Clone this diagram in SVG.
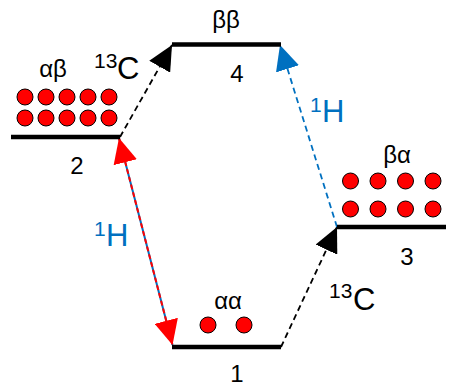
<svg xmlns="http://www.w3.org/2000/svg" width="449" height="388" viewBox="0 0 449 388">
<defs>
<style>
.lvl{stroke:#000;stroke-width:4.5;fill:none}
.dot{fill:#FF0000;stroke:#000;stroke-width:1}
.t{font-family:"Liberation Sans",Arial,sans-serif;fill:#000}
.num{font-size:24px;text-anchor:middle}
.gr{font-size:24px;text-anchor:middle}
.big{font-size:31px}
.sup{font-size:21px}
.blue{fill:#0070C0}
.cdash{stroke:#000;stroke-width:1.8;stroke-dasharray:6 4;fill:none}
.hdash{stroke:#0070C0;stroke-width:1.8;stroke-dasharray:6 4;fill:none}
</style>
<marker id="ahK" markerUnits="userSpaceOnUse" markerWidth="25" markerHeight="24" refX="25" refY="12" orient="auto" viewBox="0 0 25 24"><path d="M0,0 L25,12 L0,24 z" fill="#000"/></marker>
<marker id="ahB" markerUnits="userSpaceOnUse" markerWidth="25" markerHeight="24" refX="25" refY="12" orient="auto" viewBox="0 0 25 24"><path d="M0,0 L25,12 L0,24 z" fill="#0070C0"/></marker>
<marker id="ahR" markerUnits="userSpaceOnUse" markerWidth="25" markerHeight="24" refX="25" refY="12" orient="auto-start-reverse" viewBox="0 0 25 24"><path d="M0,0 L25,12 L0,24 z" fill="#FF0000"/></marker>
</defs>
<rect width="449" height="388" fill="#fff"/>
<g id="connectors">
<line class="cdash" x1="120" y1="137" x2="172" y2="45" marker-end="url(#ahK)"/>
<line class="cdash" x1="281" y1="347" x2="337" y2="227" marker-end="url(#ahK)"/>
<line class="hdash" x1="337" y1="227" x2="280" y2="45" marker-end="url(#ahB)"/>
<line x1="119" y1="138" x2="172.5" y2="345" stroke="#0070C0" stroke-width="2"/>
<line x1="119" y1="138" x2="172.5" y2="345" stroke="#FF0000" stroke-width="2" stroke-dasharray="5 3" marker-start="url(#ahR)" marker-end="url(#ahR)"/>
<text class="t big blue"><tspan class="sup" x="94" y="236">1</tspan><tspan x="106" y="246">H</tspan></text>
<text class="t big blue"><tspan class="sup" x="310" y="112">1</tspan><tspan x="322" y="122">H</tspan></text>
<text class="t big"><tspan class="sup" x="94" y="68">13</tspan><tspan x="117" y="79">C</tspan></text>
<text class="t big"><tspan class="sup" x="329" y="298">13</tspan><tspan x="353" y="310">C</tspan></text>
</g>
<g id="level2">
<line class="lvl" x1="11" y1="137" x2="120" y2="137"/>
<circle class="dot" cx="25" cy="97" r="8"/><circle class="dot" cx="46" cy="97" r="8"/><circle class="dot" cx="67" cy="97" r="8"/><circle class="dot" cx="88" cy="97" r="8"/><circle class="dot" cx="109" cy="97" r="8"/>
<circle class="dot" cx="25" cy="118" r="8"/><circle class="dot" cx="46" cy="118" r="8"/><circle class="dot" cx="67" cy="118" r="8"/><circle class="dot" cx="88" cy="118" r="8"/><circle class="dot" cx="109" cy="118" r="8"/>
<text class="t gr" x="53" y="77">αβ</text>
<text class="t num" x="77" y="174">2</text>
</g>
<g id="level4">
<line class="lvl" x1="172" y1="44.5" x2="281" y2="44.5"/>
<text class="t gr" x="226" y="28">ββ</text>
<text class="t num" x="237" y="82">4</text>
</g>
<g id="level3">
<line class="lvl" x1="337" y1="227" x2="446" y2="227"/>
<circle class="dot" cx="350.5" cy="181" r="8"/><circle class="dot" cx="378" cy="181" r="8"/><circle class="dot" cx="405.5" cy="181" r="8"/><circle class="dot" cx="433" cy="181" r="8"/>
<circle class="dot" cx="350.5" cy="209" r="8"/><circle class="dot" cx="378" cy="209" r="8"/><circle class="dot" cx="405.5" cy="209" r="8"/><circle class="dot" cx="433" cy="209" r="8"/>
<text class="t gr" x="397" y="163">βα</text>
<text class="t num" x="407" y="265">3</text>
</g>
<g id="level1">
<line class="lvl" x1="172" y1="347" x2="281" y2="347"/>
<circle class="dot" cx="208" cy="325" r="8"/><circle class="dot" cx="244" cy="325" r="8"/>
<text class="t gr" x="228" y="309">αα</text>
<text class="t num" x="237" y="382">1</text>
</g>
</svg>
